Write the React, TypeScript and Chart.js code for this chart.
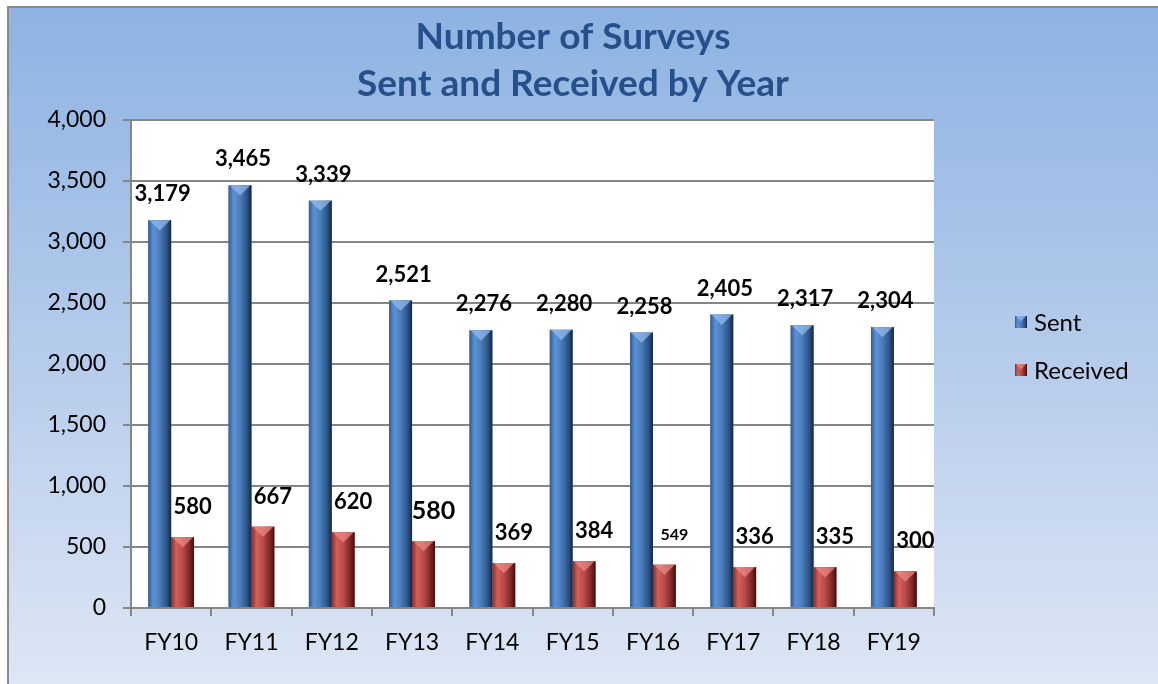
import React, { useEffect, useRef } from "react";
import { Chart, registerables } from "chart.js";

Chart.register(...registerables);

const categories = ["FY10", "FY11", "FY12", "FY13", "FY14", "FY15", "FY16", "FY17", "FY18", "FY19"];
const sentValues = [3179, 3465, 3339, 2521, 2276, 2280, 2258, 2405, 2317, 2304];
const receivedValues = [580, 667, 620, 549, 369, 384, 355, 336, 335, 300];
const sentLabels = ["3,179", "3,465", "3,339", "2,521", "2,276", "2,280", "2,258", "2,405", "2,317", "2,304"];
const receivedLabels = ["580", "667", "620", "580", "369", "384", "549", "336", "335", "300"];
const yMin = 0;
const yMax = 4000;
const yStep = 500;
const titleLines = ["Number of Surveys", "Sent and Received by Year"];

// styling only
const receivedLabelSizes = [22, 22, 22, 25, 22, 22, 16, 22, 22, 22];
const FONT = "Lato, 'Open Sans', sans-serif";

const palettes = [
  { stops: ["#2f5d94", "#5d92d2", "#4a7dbd", "#2d5182", "#15253c"], cap: "rgba(150,190,240,0.7)", base: "#4F81BD" },
  { stops: ["#8a2b28", "#d2605c", "#bb4b48", "#7a2624", "#3a100f"], cap: "rgba(240,140,135,0.7)", base: "#C0504D" },
];

function shadeRect(ctx: CanvasRenderingContext2D, left: number, top: number, w: number, h: number, p: any) {
  const g = ctx.createLinearGradient(left, 0, left + w, 0);
  const s = p.stops;
  g.addColorStop(0, s[0]);
  g.addColorStop(0.22, s[1]);
  g.addColorStop(0.5, s[2]);
  g.addColorStop(0.82, s[3]);
  g.addColorStop(1, s[4]);
  ctx.fillStyle = g;
  ctx.fillRect(left, top, w, h);
  const ch = Math.min(w * 0.45, h / 2);
  ctx.beginPath();
  ctx.moveTo(left + 1, top);
  ctx.lineTo(left + w - 1, top);
  ctx.lineTo(left + w / 2, top + ch);
  ctx.closePath();
  ctx.fillStyle = p.cap;
  ctx.fill();
}

const surveyPlugin = {
  id: "surveyPlugin",
  beforeDraw(chart: any) {
    const { ctx, width, height, chartArea } = chart;
    ctx.save();
    const g = ctx.createLinearGradient(0, 0, 0, height);
    g.addColorStop(0, "#8db3e2");
    g.addColorStop(0.55, "#b8cdec");
    g.addColorStop(1, "#dde6f4");
    ctx.fillStyle = g;
    ctx.fillRect(0, 0, width, height);
    ctx.strokeStyle = "#8a8a8a";
    ctx.lineWidth = 2;
    ctx.beginPath();
    ctx.moveTo(1, height);
    ctx.lineTo(1, 1);
    ctx.lineTo(width, 1);
    ctx.stroke();
    ctx.fillStyle = "#ffffff";
    ctx.fillRect(chartArea.left, chartArea.top, chartArea.right - chartArea.left, chartArea.bottom - chartArea.top);
    // title
    ctx.fillStyle = "#25508a";
    ctx.font = `bold 37px ${FONT}`;
    ctx.textAlign = "center";
    ctx.textBaseline = "middle";
    ctx.fillText(titleLines[0], 566, 31);
    ctx.fillText(titleLines[1], 566, 78);
    ctx.restore();
  },
  afterDatasetsDraw(chart: any) {
    const { ctx } = chart;
    ctx.save();
    chart.data.datasets.forEach((ds: any, di: number) => {
      const meta = chart.getDatasetMeta(di);
      meta.data.forEach((bar: any) => {
        const left = bar.x - bar.width / 2;
        shadeRect(ctx, left, bar.y, bar.width, bar.base - bar.y, palettes[di]);
      });
    });
    // labels
    ctx.fillStyle = "#000000";
    ctx.textAlign = "center";
    ctx.textBaseline = "middle";
    const sentMeta = chart.getDatasetMeta(0);
    sentMeta.data.forEach((bar: any, i: number) => {
      ctx.font = `bold 22px ${FONT}`;
      ctx.fillText(sentLabels[i], bar.x + 3, bar.y - 26);
    });
    const recMeta = chart.getDatasetMeta(1);
    recMeta.data.forEach((bar: any, i: number) => {
      ctx.font = `bold ${receivedLabelSizes[i]}px ${FONT}`;
      ctx.fillText(receivedLabels[i], bar.x + 10, bar.y - 30);
    });
    // legend
    const items = chart.data.datasets.map((d: any, i: number) => ({ label: d.label, p: palettes[i] }));
    items.forEach((it: any, i: number) => {
      const cy = 316 + i * 48;
      shadeRect(ctx, 1008, cy - 6, 12, 12, it.p);
      ctx.fillStyle = "#000000";
      ctx.font = `24px ${FONT}`;
      ctx.textAlign = "left";
      ctx.fillText(it.label, 1027, cy + 1);
    });
    ctx.restore();
  },
};

export default function App() {
  const ref = useRef<HTMLCanvasElement | null>(null);
  useEffect(() => {
    if (!ref.current) return;
    const chart = new Chart(ref.current, {
      type: "bar",
      data: {
        labels: categories,
        datasets: [
          { label: "Sent", data: sentValues, backgroundColor: palettes[0].base, barPercentage: 1, categoryPercentage: 0.57 },
          { label: "Received", data: receivedValues, backgroundColor: palettes[1].base, barPercentage: 1, categoryPercentage: 0.57 },
        ],
      },
      options: {
        responsive: false,
        animation: false,
        devicePixelRatio: 1,
        layout: { padding: { left: 0, top: 114, right: 224, bottom: 0 } },
        plugins: { legend: { display: false }, title: { display: false }, tooltip: { enabled: false } },
        scales: {
          x: {
            grid: { display: true, drawOnChartArea: false, drawTicks: true, tickLength: 8, offset: true, color: "#868686", lineWidth: 2 },
            border: { display: true, color: "#868686", width: 2 },
            ticks: { color: "#000", font: { family: FONT, size: 23 }, padding: 13 },
            afterFit: (s: any) => { s.height = 76; },
          },
          y: {
            min: yMin,
            max: yMax,
            grid: { color: "#868686", lineWidth: 2, tickLength: 8 },
            border: { display: true, color: "#868686", width: 2 },
            ticks: {
              stepSize: yStep,
              color: "#000",
              font: { family: FONT, size: 23 },
              padding: 17,
              callback: (v: any) => Number(v).toLocaleString("en-US"),
            },
            afterFit: (s: any) => { s.width = 124; },
          },
        },
      },
      plugins: [surveyPlugin],
    });
    return () => chart.destroy();
  }, []);
  return (
    <div style={{ position: "absolute", left: 7, top: 6, width: 1151, height: 678 }}>
      <canvas ref={ref} width={1151} height={678} />
    </div>
  );
}
